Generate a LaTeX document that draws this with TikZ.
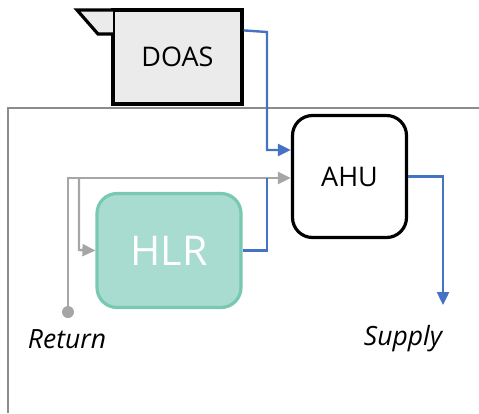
\documentclass[tikz,border=0pt]{standalone}
\usepackage{fontspec}
\setmainfont{Open Sans}
\usetikzlibrary{arrows.meta}
\definecolor{flowblue}{HTML}{4472C4}
\definecolor{flowgray}{HTML}{A6A6A6}
\definecolor{framegray}{HTML}{8C8C8C}
\definecolor{hlrfill}{HTML}{A8DCD0}
\definecolor{hlrdraw}{HTML}{78C8B2}
\definecolor{doasfill}{HTML}{EBEBEB}
\tikzset{
  bluel/.style={draw=flowblue, line width=2.4pt},
  grayl/.style={draw=flowgray, line width=2.4pt},
  tip/.style={-{Triangle[length=13pt,width=12pt]}},
  unitbox/.style={draw=black, line width=3.2pt, inner sep=0pt},
  lbl/.style={font=\itshape\fontsize{26.5}{30}\selectfont, inner sep=0pt},
}
\begin{document}
\begin{tikzpicture}[x=1pt,y=-1pt]
\useasboundingbox (0,0) rectangle (479,413);
% frame
\draw[draw=framegray, line width=2.4pt] (479,108) -- (8,108) -- (8,413);
% DOAS
\node[unitbox, fill=doasfill, minimum width=129pt, minimum height=94pt, font=\fontsize{27}{30}\selectfont] (DOAS) at (177.5,57) {DOAS};
\draw[line width=3.2pt, fill=doasfill, line join=miter] (113,10) -- (77,10) -- (98,34) -- (113,34);
\draw[line width=0.8pt] (113,10) -- (113,34);
% AHU
\node[unitbox, rounded corners=20pt, minimum width=114pt, minimum height=122pt, font=\fontsize{27}{30}\selectfont] (AHU) at (349.5,176.5) {AHU};
% HLR
\node[draw=hlrdraw, fill=hlrfill, line width=3.2pt, rounded corners=20pt, minimum width=144pt, minimum height=114pt, text=white, font=\fontsize{41}{46}\selectfont] (HLR) at (169,250.5) {HLR};
% return point
\node[circle, fill=flowgray, minimum size=12pt, inner sep=0pt] (ret) at (68,312) {};
\node[lbl] (rlabel) at (67,339) {Return};
\node[lbl] (slabel) at (403,339) {Supply};
\coordinate (sup) at (443,305);
% connectors
\draw[bluel, tip] (DOAS.north east) ++(0,22) -- (267,32) -- (267,150) -- (AHU.west |- 267,150);
\draw[grayl, tip] (ret) -- (68,178) -- (AHU.west |- 68,178);
\draw[grayl, tip] (79,178) -- (79,250) -- (HLR.west);
\draw[bluel] (HLR.east) -- (267,250.5) -- (267,178);
\draw[bluel, tip] (AHU.east) -- (443,176.5) -- (sup);
\end{tikzpicture}
\end{document}
